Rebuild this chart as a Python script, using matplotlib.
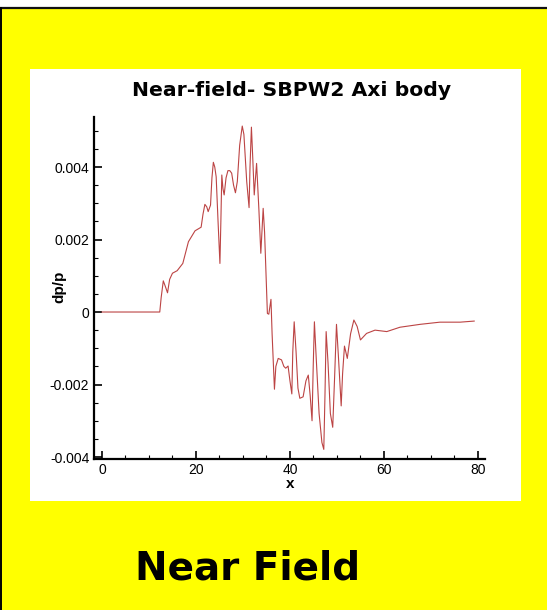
import numpy as np
import matplotlib
matplotlib.use('Agg')
import matplotlib.pyplot as plt
from matplotlib.patches import Rectangle
from matplotlib.lines import Line2D
from matplotlib.ticker import MultipleLocator, FixedLocator, FuncFormatter

plt.rcParams['font.family'] = ['Liberation Sans', 'DejaVu Sans']

# near-field pressure signature along the body axis
x_pos = [0, 12.3, 12.6, 13.05, 13.5, 13.95, 14.4, 15.0, 16.0, 17.2, 18.4, 19.8, 21.1,
         21.5, 21.9, 22.3, 22.6, 23.1, 23.4, 23.7, 24.0, 24.3, 24.7, 25.1, 25.3, 25.5,
         25.75, 26.0, 26.4, 26.8, 27.2, 27.6, 28.0, 28.4, 28.8, 29.3, 29.85, 30.2, 30.8,
         31.3, 31.5, 31.8, 32.1, 32.4, 32.9, 33.4, 33.8, 34.3, 34.6, 35.0, 35.2, 35.5,
         35.96, 36.2, 36.7, 37.0, 37.5, 38.2, 38.7, 39.1, 39.6, 40.0, 40.4, 40.6, 40.9,
         41.3, 41.7, 42.1, 42.8, 43.4, 43.9, 44.3, 44.7, 44.95, 45.2, 45.6, 46.2, 46.8,
         47.2, 47.45, 47.7, 48.1, 48.6, 49.1, 49.5, 49.9, 50.3, 50.9, 51.2, 51.6, 52.2,
         52.9, 53.6, 54.3, 55.0, 56.3, 58.1, 60.6, 63.4, 67.7, 71.9, 76.2, 79.2]
dp_p = [0, 0, 0.0004, 0.00086, 0.0007, 0.00053, 0.0009, 0.00107, 0.00114, 0.00134,
        0.00194, 0.00224, 0.00234, 0.0027, 0.00297, 0.0029, 0.00277, 0.00295, 0.0037,
        0.00413, 0.004, 0.00373, 0.0025, 0.00134, 0.0025, 0.00378, 0.0034, 0.00323,
        0.0037, 0.0039, 0.0039, 0.00383, 0.0035, 0.00329, 0.0036, 0.0046, 0.00513,
        0.0049, 0.0036, 0.00288, 0.004, 0.0051, 0.0042, 0.00323, 0.0041, 0.0028,
        0.00162, 0.00286, 0.0022, 0.0007, -0.00004, -0.00006, 0.00035, -0.0006,
        -0.00213, -0.0015, -0.00128, -0.00132, -0.0015, -0.00155, -0.00149, -0.0019,
        -0.00226, -0.0011, -0.00027, -0.0011, -0.0021, -0.00238, -0.00234, -0.0019,
        -0.00174, -0.0023, -0.003, -0.0015, -0.00027, -0.0013, -0.0028, -0.0036,
        -0.00379, -0.0023, -0.00054, -0.0014, -0.0028, -0.00318, -0.0018, -0.00034,
        -0.0012, -0.00259, -0.0017, -0.00094, -0.00128, -0.0006, -0.00022, -0.0004,
        -0.00077, -0.00059, -0.0005, -0.00054, -0.00042, -0.00034, -0.00028, -0.00028,
        -0.00025]

x_ticks = [0, 20, 40, 60, 80]
y_ticks = [-0.004, -0.002, 0, 0.002, 0.004]

W, H = 547, 610
fig = plt.figure(figsize=(W / 100, H / 100), dpi=100)
fig.patch.set_facecolor('white')


def fx(px):
    return px / W


def fy(py):
    return 1 - py / H


# yellow slide background with a white chart panel
fig.add_artist(Rectangle((0, 0), 1, fy(8.5), transform=fig.transFigure,
                         facecolor='#ffff00', edgecolor='none', zorder=0))
fig.add_artist(Line2D([0, 1], [fy(8), fy(8)], transform=fig.transFigure,
                      color='#111111', lw=1.6, zorder=1))
fig.add_artist(Line2D([fx(0.8), fx(0.8)], [0, fy(8)], transform=fig.transFigure,
                      color='black', lw=1.4, zorder=1))
fig.add_artist(Rectangle((fx(30), fy(501)), fx(521) - fx(30), fy(69) - fy(501),
                         transform=fig.transFigure, facecolor='white',
                         edgecolor='none', zorder=0))

ax = fig.add_axes([fx(93.5), fy(459), fx(485) - fx(93.5), fy(117) - fy(459)])
ax.set_facecolor('none')
ax.plot(x_pos, dp_p, color='#bc4444', lw=0.8)

ax.set_xlim(-1.8, 81.5)
ax.set_ylim(-0.004055, 0.00538)
for s in ['top', 'right']:
    ax.spines[s].set_visible(False)
for s in ['left', 'bottom']:
    ax.spines[s].set_linewidth(1.6)

ax.xaxis.set_major_locator(FixedLocator(x_ticks))
ax.xaxis.set_minor_locator(MultipleLocator(5))
ax.yaxis.set_major_locator(FixedLocator(y_ticks))
ax.yaxis.set_minor_locator(MultipleLocator(0.0005))
ax.yaxis.set_major_formatter(FuncFormatter(lambda v, p: '0' if abs(v) < 1e-9 else '%.3f' % v))
ax.tick_params(which='major', direction='in', length=6, width=1.2, labelsize=10, pad=3)
ax.tick_params(which='minor', direction='in', length=3, width=0.8)

fig.text(fx(292), fy(96), 'Near-field- SBPW2 Axi body', ha='center', va='baseline',
         fontsize=14.7, fontweight='bold', family='DejaVu Sans')
fig.text(fx(290), fy(488), 'x', ha='center', va='baseline', fontsize=11, fontweight='bold')
fig.text(fx(59), fy(287), 'dp/p', ha='center', va='center', rotation=90,
         fontsize=11, fontweight='bold')
fig.text(fx(248), fy(580), 'Near Field', ha='center', va='baseline',
         fontsize=28, fontweight='bold', family='DejaVu Sans')

fig.savefig('out.png', dpi=100)
